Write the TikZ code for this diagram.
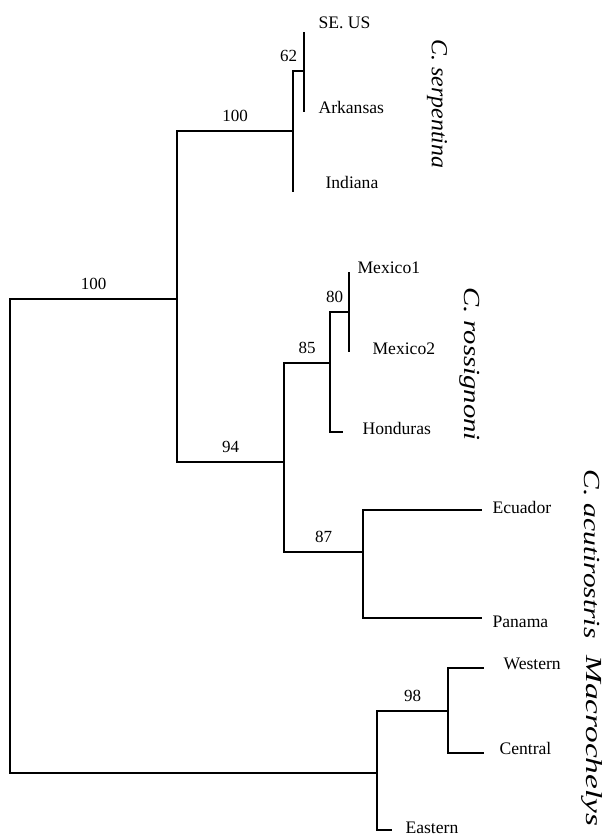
\documentclass[tikz,border=0pt]{standalone}
\usepackage{fontspec}
\setmainfont{Liberation Serif}
\usetikzlibrary{positioning}

\begin{document}
\begin{tikzpicture}[
    x=0.5pt, y=-0.5pt,
    line width=0.55pt,
    every node/.style={inner sep=0pt},
    taxon/.style={anchor=west, font=\fontsize{8.8}{10}\selectfont},
    boot/.style={anchor=south, yshift=4.5pt, font=\fontsize{8.5}{10}\selectfont},
    clade/.style={rotate=-90, xscale=#1, font=\fontsize{11.5}{12}\selectfont\itshape}
]
\useasboundingbox (0,0) rectangle (608,836);

% internal nodes
\coordinate (root) at (10,536);
\coordinate (nChel) at (177,299);
\coordinate (nSerp) at (293,131);
\coordinate (n62) at (304,71);
\coordinate (n94) at (284,462);
\coordinate (n85) at (330,363);
\coordinate (n80) at (349,312);
\coordinate (n87) at (363,552);
\coordinate (nMacro) at (377,773);
\coordinate (n98) at (448,711);

% branch tips
\coordinate (tSeus) at (304,32);
\coordinate (tArk) at (304,112);
\coordinate (tInd) at (293,192);
\coordinate (tMex1) at (349,272);
\coordinate (tMex2) at (349,352);
\coordinate (tHond) at (343,432);
\coordinate (tEcu) at (482,510);
\coordinate (tPan) at (482,618);
\coordinate (tWest) at (484,668);
\coordinate (tCent) at (484,753);
\coordinate (tEast) at (392,830);

\node[taxon] (seus) at (318,23) {SE. US};
\node[taxon] (ark) at (318,107) {Arkansas};
\node[taxon] (ind) at (325,182) {Indiana};
\node[taxon] (mex1) at (357,268) {Mexico1};
\node[taxon] (mex2) at (372,349) {Mexico2};
\node[taxon] (hond) at (362,428) {Honduras};
\node[taxon] (ecu) at (492,507) {Ecuador};
\node[taxon] (pan) at (492,622) {Panama};
\node[taxon] (west) at (503,664) {Western};
\node[taxon] (cent) at (499,748) {Central};
\node[taxon] (east) at (405,828) {Eastern};

\node[clade=1.04] (cSerp) at (437,104) {C. serpentina};
\node[clade=1.25] (cRoss) at (470,364) {C. rossignoni};
\node[clade=1.28] (cAcut) at (592,554) {C. acutirostris};
\node[clade=1.45] (cMacro) at (592,741) {Macrochelys};

\draw (root) |- node[boot, pos=0.75] (bChel) {100} (nChel);
\draw (root) |- (nMacro);
\draw (nChel) |- node[boot, pos=0.75] (bSerp) {100} (nSerp);
\draw (nChel) |- node[boot, pos=0.75] (b94) {94} (n94);
\draw (nSerp) |- node[boot, pos=0.75, xshift=-5pt] (b62) {62} (n62);
\draw (nSerp) -- (tInd);
\draw (n62) -- (tSeus);
\draw (n62) -- (tArk);
\draw (n94) |- node[boot, pos=0.75] (b85) {85} (n85);
\draw (n94) |- node[boot, pos=0.75] (b87) {87} (n87);
\draw (n85) |- node[boot, pos=0.75, xshift=-2.5pt] (b80) {80} (n80);
\draw (n85) |- (tHond);
\draw (n80) -- (tMex1);
\draw (n80) -- (tMex2);
\draw (n87) |- (tEcu);
\draw (n87) |- (tPan);
\draw (nMacro) |- node[boot, pos=0.75] (b98) {98} (n98);
\draw (nMacro) |- (tEast);
\draw (n98) |- (tWest);
\draw (n98) |- (tCent);

\end{tikzpicture}
\end{document}
